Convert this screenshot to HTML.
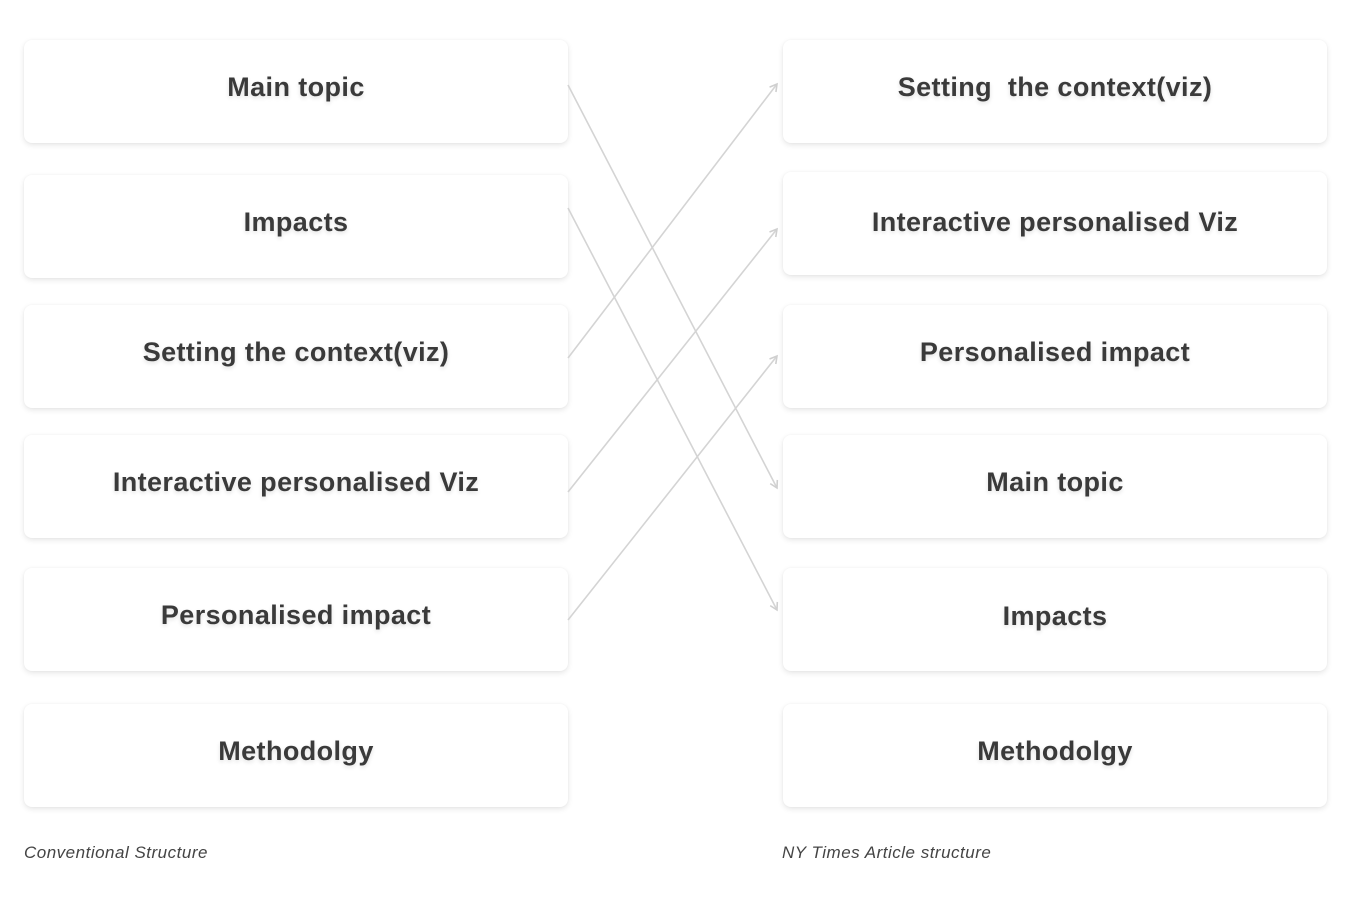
<!DOCTYPE html>
<html><head><style>
body{margin:0;width:1358px;height:907px;background:#fff;position:relative;font-family:"Liberation Sans",sans-serif;overflow:hidden}
.b{position:absolute;width:544px;height:103px;box-sizing:border-box;padding-bottom:9px;background:#fff;border-radius:8px;box-shadow:0 2px 6px rgba(0,0,0,0.10),0 0 2px rgba(0,0,0,0.04);display:flex;align-items:center;justify-content:center;font-weight:bold;font-size:27px;letter-spacing:0.4px;color:#3a3a3a;text-shadow:0 2px 4px rgba(0,0,0,0.12)}
.c{position:absolute;top:843px;font-style:italic;font-size:17px;letter-spacing:0.5px;color:#444}
svg{position:absolute;left:0;top:0}
</style></head><body>
<div class="b" style="left:24px;top:40px">Main topic</div>
<div class="b" style="left:24px;top:175px">Impacts</div>
<div class="b" style="left:24px;top:305px">Setting the context(viz)</div>
<div class="b" style="left:24px;top:435px">Interactive personalised Viz</div>
<div class="b" style="left:24px;top:568px">Personalised impact</div>
<div class="b" style="left:24px;top:704px">Methodolgy</div>
<div class="b" style="left:783px;top:40px">Setting&nbsp; the context(viz)</div>
<div class="b" style="left:783px;top:172px;padding-bottom:3px">Interactive personalised Viz</div>
<div class="b" style="left:783px;top:305px">Personalised impact</div>
<div class="b" style="left:783px;top:435px">Main topic</div>
<div class="b" style="left:783px;top:568px;padding-bottom:7px">Impacts</div>
<div class="b" style="left:783px;top:704px">Methodolgy</div>
<div class="c" style="left:24px">Conventional Structure</div>
<div class="c" style="left:782px">NY Times Article structure</div>
<svg width="1358" height="907">
<defs><marker id="a" markerWidth="10" markerHeight="10" refX="8" refY="5" orient="auto" markerUnits="userSpaceOnUse"><path d="M1,1 L8,5 L1,9" fill="none" stroke="#cfcfcf" stroke-width="1.6"/></marker></defs>
<g stroke="#d4d4d4" stroke-width="1.6" fill="none" marker-end="url(#a)">
<line x1="568" y1="85" x2="777" y2="488"/>
<line x1="568" y1="208" x2="777" y2="610"/>
<line x1="568" y1="358" x2="777" y2="84"/>
<line x1="568" y1="492" x2="777" y2="229"/>
<line x1="568" y1="620" x2="777" y2="356"/>
</g></svg>
</body></html>
